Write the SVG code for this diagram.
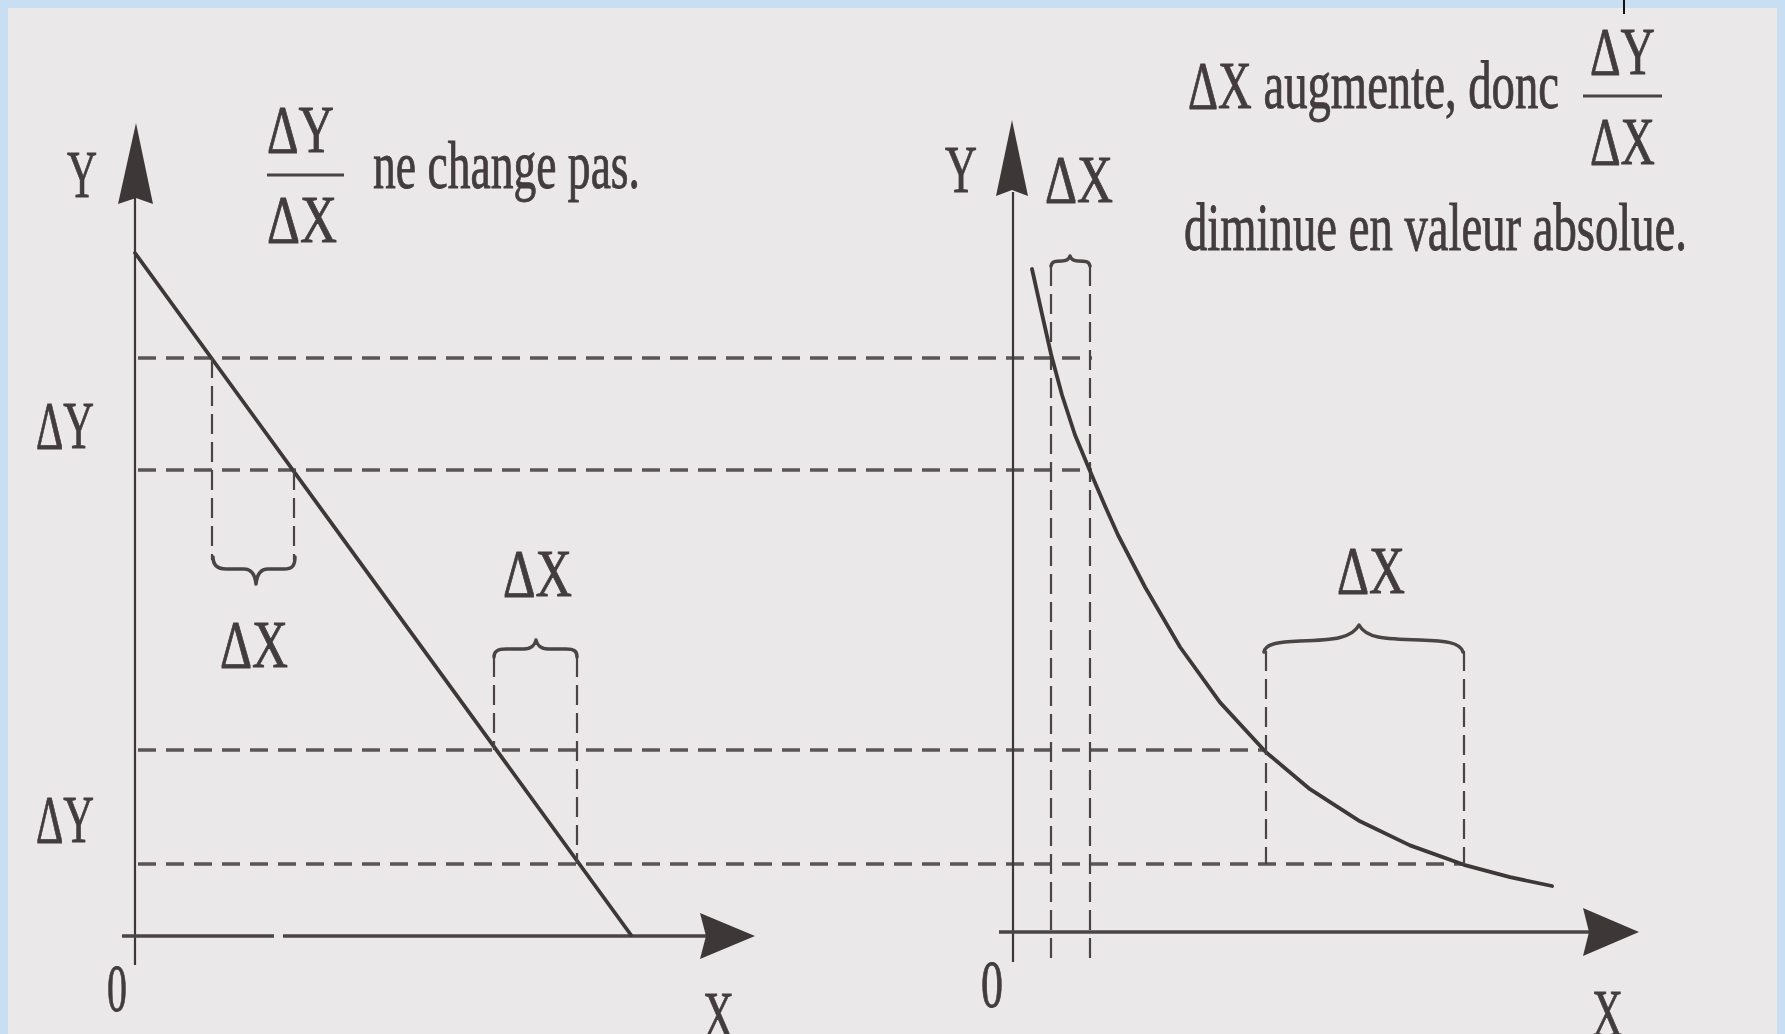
<svg xmlns="http://www.w3.org/2000/svg" width="1785" height="1034" viewBox="0 0 1785 1034">
<style>
.t{font-family:"Liberation Serif","Times New Roman",serif;font-size:68px;fill:#433c3e;stroke:#433c3e;stroke-width:0.9}
.ya{stroke:#3d3738;stroke-width:2.2;fill:none}
.xa{stroke:#4a4445;stroke-width:3.5;fill:none}
.cv{stroke:#3d3738;stroke-width:3.8;fill:none;stroke-linecap:round;stroke-linejoin:round}
.hd{stroke:#5a5455;stroke-width:3.5;stroke-dasharray:18 10;fill:none}
.vd{stroke:#4a4445;stroke-width:2.2;stroke-dasharray:20 8;fill:none}
.br{stroke:#4a4445;stroke-width:3.5;fill:none;stroke-linecap:round;stroke-linejoin:round}
.bar{stroke:#4a4345;stroke-width:3}
.ah{fill:#3d3738}
</style>
<rect width="1785" height="1034" fill="#c8def2"/>
<rect x="8" y="8" width="1769" height="1026" fill="#ebe8e9"/>
<line x1="1624" y1="0" x2="1624" y2="14" stroke="#111" stroke-width="2"/>

<g id="connectors">
  <line class="hd" x1="138" y1="358" x2="1092" y2="358"/>
  <line class="hd" x1="138" y1="470" x2="1092" y2="470"/>
  <line class="hd" x1="138" y1="750" x2="1266" y2="750"/>
  <line class="hd" x1="138" y1="864" x2="1464" y2="864"/>
</g>

<g id="graph-left">
  <line class="ya" x1="135" y1="198" x2="135" y2="965"/>
  <path class="ah" d="M136,123 L153,204 L136,198 L118,204 Z"/>
  <line class="xa" x1="122" y1="936" x2="274" y2="936"/>
  <line class="xa" x1="283" y1="936" x2="706" y2="936"/>
  <path class="ah" d="M755,936 L700,913 L706,936 L700,959 Z"/>
  <line class="cv" x1="135" y1="253" x2="631" y2="935"/>
  <line class="vd" x1="212" y1="358" x2="212" y2="560"/>
  <line class="vd" x1="294" y1="470" x2="294" y2="560"/>
  <path class="br" d="M213,557 C213,566 218,569 226,569 L244,569 C251,569 255,574 256,584 C257,574 261,569 268,569 L284,569 C292,569 295,566 295,557"/>
  <line class="vd" x1="494" y1="657" x2="494" y2="750"/>
  <line class="vd" x1="577" y1="657" x2="577" y2="864"/>
  <path class="br" d="M494,657 C494,651 498,649 506,649 L524,649 C531,649 535,645 536,640 C537,645 541,649 548,649 L566,649 C574,649 577,651 577,657"/>
  <text class="t" x="67" y="197" textLength="30" lengthAdjust="spacingAndGlyphs">Y</text>
  <text class="t" x="267" y="152" textLength="67" lengthAdjust="spacingAndGlyphs">ΔY</text>
  <line class="bar" x1="267" y1="175" x2="344" y2="175"/>
  <text class="t" x="267" y="242" textLength="70" lengthAdjust="spacingAndGlyphs">ΔX</text>
  <text class="t" x="373" y="188" textLength="267" lengthAdjust="spacingAndGlyphs">ne change pas.</text>
  <text class="t" x="36" y="448" textLength="58" lengthAdjust="spacingAndGlyphs">ΔY</text>
  <text class="t" x="36" y="842" textLength="58" lengthAdjust="spacingAndGlyphs">ΔY</text>
  <text class="t" x="220" y="667" textLength="68" lengthAdjust="spacingAndGlyphs">ΔX</text>
  <text class="t" x="503" y="596" textLength="69" lengthAdjust="spacingAndGlyphs">ΔX</text>
  <text class="t" x="107" y="1011" textLength="20" lengthAdjust="spacingAndGlyphs">0</text>
  <text class="t" x="703" y="1038" textLength="31" lengthAdjust="spacingAndGlyphs">X</text>
</g>

<g id="graph-right">
  <line class="ya" x1="1013" y1="192" x2="1013" y2="962"/>
  <path class="ah" d="M1012,120 L1028,196 L1012,190 L996,196 Z"/>
  <line class="xa" x1="999" y1="932" x2="1589" y2="932"/>
  <path class="ah" d="M1639,932 L1583,908 L1589,932 L1583,956 Z"/>
  <line class="vd" x1="1051" y1="266" x2="1051" y2="962"/>
  <line class="vd" x1="1090" y1="266" x2="1090" y2="962"/>
  <path class="br" stroke-width="2.6" d="M1051,266 C1052,261 1056,261 1062,261 C1067,261 1069,259 1070,256 C1071,259 1073,261 1078,261 C1085,261 1089,261 1090,266"/>
  <polyline class="cv" points="1032,269 1042,314 1051,354 1062,395 1075,435 1090,471 1105,506 1118,535 1145,587 1180,647 1220,702.4 1266,752.2 1310,789.2 1360,821.3 1410,845.4 1464,864.8 1510,877.2 1552,886"/>
  <line class="vd" x1="1266" y1="651" x2="1266" y2="864"/>
  <line class="vd" x1="1464" y1="651" x2="1464" y2="864"/>
  <path class="br" d="M1264,652 C1266,643 1280,642 1300,641 C1335,640 1352,638 1359,625 C1366,638 1383,639 1420,640 C1445,641 1460,642 1463,652"/>
  <text class="t" x="945" y="192" textLength="32" lengthAdjust="spacingAndGlyphs">Y</text>
  <text class="t" x="1045" y="202" textLength="68" lengthAdjust="spacingAndGlyphs">ΔX</text>
  <text class="t" x="1337" y="593" textLength="68" lengthAdjust="spacingAndGlyphs">ΔX</text>
  <text class="t" x="981" y="1007" textLength="22" lengthAdjust="spacingAndGlyphs">0</text>
  <text class="t" x="1592" y="1036" textLength="31" lengthAdjust="spacingAndGlyphs">X</text>
  <text class="t" x="1188" y="108" textLength="371" lengthAdjust="spacingAndGlyphs">ΔX augmente, donc</text>
  <text class="t" x="1590" y="74" textLength="65" lengthAdjust="spacingAndGlyphs">ΔY</text>
  <line class="bar" x1="1583" y1="96" x2="1662" y2="96"/>
  <text class="t" x="1590" y="164" textLength="65" lengthAdjust="spacingAndGlyphs">ΔX</text>
  <text class="t" x="1184" y="250" textLength="503" lengthAdjust="spacingAndGlyphs">diminue en valeur absolue.</text>
</g>
</svg>
